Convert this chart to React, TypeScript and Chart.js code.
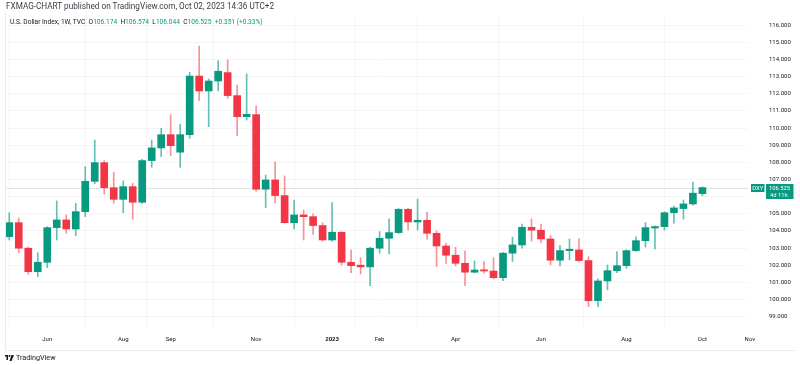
import React, { useEffect, useRef } from "react";
import { Chart, registerables } from "chart.js";

Chart.register(...registerables);

const weeks = [
  "2022-05-09", "2022-05-16", "2022-05-23", "2022-05-30", "2022-06-06", "2022-06-13", "2022-06-20", "2022-06-27",
  "2022-07-04", "2022-07-11", "2022-07-18", "2022-07-25", "2022-08-01", "2022-08-08", "2022-08-15", "2022-08-22",
  "2022-08-29", "2022-09-05", "2022-09-12", "2022-09-19", "2022-09-26", "2022-10-03", "2022-10-10", "2022-10-17",
  "2022-10-24", "2022-10-31", "2022-11-07", "2022-11-14", "2022-11-21", "2022-11-28", "2022-12-05", "2022-12-12",
  "2022-12-19", "2022-12-26", "2023-01-02", "2023-01-09", "2023-01-16", "2023-01-23", "2023-01-30", "2023-02-06",
  "2023-02-13", "2023-02-20", "2023-02-27", "2023-03-06", "2023-03-13", "2023-03-20", "2023-03-27", "2023-04-03",
  "2023-04-10", "2023-04-17", "2023-04-24", "2023-05-01", "2023-05-08", "2023-05-15", "2023-05-22", "2023-05-29",
  "2023-06-05", "2023-06-12", "2023-06-19", "2023-06-26", "2023-07-03", "2023-07-10", "2023-07-17", "2023-07-24",
  "2023-07-31", "2023-08-07", "2023-08-14", "2023-08-21", "2023-08-28", "2023-09-04", "2023-09-11", "2023-09-18",
  "2023-09-25", "2023-10-02",
];

const openValues = [
  103.66, 104.48, 102.99, 101.62, 102.17, 104.19, 104.64, 104.11, 105.12, 106.89, 107.98, 106.52, 105.84, 106.58,
  105.67, 108.1, 108.84, 109.61, 108.59, 109.61, 113.03, 112.16, 112.74, 113.23, 111.89, 110.66, 110.78, 106.43,
  106.97, 106.06, 104.48, 104.93, 104.83, 104.31, 103.47, 103.92, 102.17, 102.0, 101.9, 102.99, 103.57, 103.9,
  105.26, 104.52, 104.62, 103.86, 103.12, 102.58, 102.11, 101.59, 101.72, 101.66, 101.27, 102.7, 103.18, 104.21,
  104.04, 103.53, 102.29, 102.85, 102.89, 102.27, 99.93, 101.08, 101.68, 101.97, 102.85, 103.43, 104.17, 104.25,
  105.06, 105.3, 105.57, 106.174,
];

const highValues = [
  105.06, 104.75, 103.05, 102.73, 104.24, 105.75, 104.93, 105.61, 107.75, 109.3, 108.1, 107.42, 106.91, 106.78,
  108.18, 109.3, 109.99, 110.78, 110.22, 113.25, 114.78, 112.86, 113.93, 113.97, 112.51, 113.15, 111.29, 107.26,
  108.02, 107.2, 105.8, 105.22, 104.99, 104.48, 105.65, 103.95, 102.89, 102.44, 103.05, 103.96, 104.7, 105.3,
  105.32, 105.86, 105.09, 104.0, 103.28, 103.05, 102.83, 102.25, 102.21, 102.44, 102.75, 103.63, 104.4, 104.7,
  104.4, 103.72, 103.16, 103.53, 103.55, 102.5, 101.2, 102.01, 102.79, 102.9, 103.66, 104.48, 104.3, 105.12,
  105.45, 105.8, 106.85, 106.574,
];

const lowValues = [
  103.47, 102.73, 101.47, 101.33, 101.86, 103.47, 103.86, 103.72, 104.83, 106.75, 106.14, 105.61, 105.06, 104.68,
  105.6, 107.71, 108.33, 108.39, 107.71, 109.4, 111.6, 110.08, 112.16, 111.73, 109.55, 110.47, 106.31, 105.36,
  105.61, 104.45, 104.11, 103.47, 103.8, 103.4, 103.4, 102.01, 101.57, 101.49, 100.81, 102.7, 102.66, 103.85,
  104.05, 104.05, 103.51, 101.92, 102.11, 101.96, 100.81, 101.55, 101.53, 101.2, 101.1, 102.21, 102.99, 103.41,
  103.31, 102.01, 101.96, 102.31, 102.2, 99.58, 99.58, 100.56, 101.57, 101.82, 102.8, 103.05, 102.95, 104.05,
  104.45, 104.68, 105.5, 106.044,
];

const closeValues = [
  104.48, 102.99, 101.62, 102.17, 104.19, 104.64, 104.11, 105.12, 106.89, 107.98, 106.52, 105.84, 106.58, 105.67,
  108.1, 108.84, 109.61, 108.97, 109.61, 113.03, 112.16, 112.74, 113.31, 111.89, 110.66, 110.8, 106.43, 106.97,
  106.06, 104.48, 104.93, 104.83, 104.31, 103.47, 103.92, 102.17, 101.97, 101.9, 102.99, 103.57, 103.9, 105.26,
  104.52, 104.62, 103.86, 103.12, 102.58, 102.11, 101.59, 101.72, 101.66, 101.27, 102.7, 103.18, 104.21, 104.04,
  103.53, 102.29, 102.85, 102.93, 102.27, 99.93, 101.08, 101.68, 101.97, 102.85, 103.43, 104.19, 104.25, 105.06,
  105.34, 105.57, 106.2, 106.525,
];

// time-axis ticks: week index -> label
const timeTickIndex = [4, 12, 17, 26, 34, 39, 47, 56, 65, 73, 78];
const timeTickLabels = ["Jun", "Aug", "Sep", "Nov", "2023", "Feb", "Apr", "Jun", "Aug", "Oct", "Nov"];

const priceTicks = [99, 100, 101, 102, 103, 104, 105, 106, 107, 108, 109, 110, 111, 112, 113, 114, 115, 116];

const UP = "#089981";
const DOWN = "#F23645";
const UP_WICK = "rgba(8,153,129,0.62)";
const DOWN_WICK = "rgba(242,54,69,0.55)";
const TEXT = "#131722";
const GRID = "rgba(42,46,57,0.045)";
const FONT = "Roboto, 'Liberation Sans', sans-serif";

export default function App() {
  const canvasRef = useRef<HTMLCanvasElement | null>(null);

  useEffect(() => {
    const canvas = canvasRef.current;
    if (!canvas) return;

    const isUp = (i: number) => closeValues[i] >= openValues[i];
    const bodies = weeks.map((_, i) => ({ x: i, y: [openValues[i], closeValues[i]] }));
    const wicks = weeks.map((_, i) => ({ x: i, y: [lowValues[i], highValues[i]] }));
    const last = closeValues.length - 1;

    const overlay = {
      id: "tvOverlay",
      beforeDatasetsDraw(chart: any) {
        const { ctx, chartArea, scales } = chart;
        const y = Math.round(scales.y.getPixelForValue(closeValues[last])) + 0.5;
        ctx.save();
        ctx.strokeStyle = "#dfe4e3";
        ctx.lineWidth = 1;
        ctx.beginPath();
        ctx.moveTo(chartArea.left, y);
        ctx.lineTo(chartArea.right, y);
        ctx.stroke();
        ctx.restore();
      },
      afterDraw(chart: any) {
        const { ctx, chartArea, scales } = chart;
        const y = scales.y.getPixelForValue(closeValues[last]);
        ctx.save();
        ctx.strokeStyle = "#e9eaec";
        ctx.lineWidth = 1;
        ctx.beginPath();
        ctx.moveTo(chartArea.left + 0.5, 12);
        ctx.lineTo(chartArea.left + 0.5, 350);
        ctx.moveTo(chartArea.left, 350.5);
        ctx.lineTo(795, 350.5);
        ctx.stroke();
        const tagTop = Math.round(y - 3.5);
        ctx.fillStyle = UP;
        ctx.fillRect(chartArea.right + 3, tagTop, 13.5, 8);
        ctx.fillRect(chartArea.right + 18, tagTop, 27.5, 15);
        ctx.fillStyle = "#ffffff";
        ctx.font = `5.8px ${FONT}`;
        ctx.textBaseline = "middle";
        ctx.textAlign = "center";
        ctx.fillText("DXY", chartArea.right + 9.75, tagTop + 4.2);
        ctx.textAlign = "left";
        ctx.fillText(closeValues[last].toFixed(3), chartArea.right + 21, tagTop + 4.2);
        ctx.fillText("4d 11h", chartArea.right + 22, tagTop + 11.2);
        ctx.restore();
      },
    };

    const chart = new Chart(canvas, {
      type: "bar",
      data: {
        datasets: [
          {
            label: "body",
            data: bodies as any,
            backgroundColor: weeks.map((_, i) => (isUp(i) ? UP : DOWN)),
            barThickness: 7,
            minBarLength: 1.2,
            grouped: false,
            order: 0,
          } as any,
          {
            label: "wick",
            data: wicks as any,
            backgroundColor: weeks.map((_, i) => (isUp(i) ? UP_WICK : DOWN_WICK)),
            barThickness: 1,
            grouped: false,
            order: 1,
          } as any,
        ],
      },
      options: {
        animation: false,
        responsive: false,
        maintainAspectRatio: false,
        devicePixelRatio: 1,
        layout: { padding: { left: 5, top: 15, right: 0, bottom: 15 } },
        plugins: { legend: { display: false }, tooltip: { enabled: false } },
        scales: {
          x: {
            type: "linear",
            min: -0.45,
            max: 77.8,
            offset: false,
            afterBuildTicks: (scale: any) => {
              scale.ticks = timeTickIndex.map((v) => ({ value: v }));
            },
            afterFit: (scale: any) => {
              scale.height = 20;
              scale.paddingLeft = 0;
              scale.paddingRight = 0;
            },
            border: { display: false },
            grid: {
              color: (c: any) => (c.tick && c.tick.value > 77.8 ? "rgba(0,0,0,0)" : GRID),
              drawTicks: false,
            },
            ticks: {
              autoSkip: false,
              maxRotation: 0,
              padding: 6,
              color: TEXT,
              font: (c: any) => ({
                family: FONT,
                size: 6,
                weight: c.tick && c.tick.value === 34 ? "bold" : "normal",
              }),
              callback: (v: any) => {
                const k = timeTickIndex.indexOf(Number(v));
                return k >= 0 ? timeTickLabels[k] : "";
              },
            },
          },
          y: {
            type: "linear",
            position: "right",
            min: 98.22,
            max: 116.59,
            afterBuildTicks: (scale: any) => {
              scale.ticks = priceTicks.map((v) => ({ value: v }));
            },
            afterFit: (scale: any) => {
              scale.width = 52;
              scale.paddingTop = 0;
              scale.paddingBottom = 0;
            },
            border: { display: false },
            grid: { color: GRID, drawTicks: false },
            ticks: {
              padding: 21,
              color: TEXT,
              font: { family: FONT, size: 6 },
              callback: (v: any) => Number(v).toFixed(3),
            },
          },
        },
      },
      plugins: [overlay],
    } as any);

    return () => chart.destroy();
  }, []);

  const green = { color: UP };
  return (
    <div
      style={{
        position: "absolute",
        left: 0,
        top: 0,
        width: 800,
        height: 365,
        background: "#ffffff",
        fontFamily: FONT,
        overflow: "hidden",
      }}
    >
      <canvas ref={canvasRef} width={800} height={365} style={{ position: "absolute", left: 0, top: 0 }} />
      <div style={{ position: "absolute", left: 6, top: 1, fontSize: 8.2, color: "#3a3d45", whiteSpace: "nowrap", lineHeight: "11px" }}>
        FXMAG-CHART published on TradingView.com, Oct 02, 2023 14:36 UTC+2
      </div>
      <div style={{ position: "absolute", left: 10, top: 17, fontSize: 6.6, color: TEXT, whiteSpace: "nowrap", lineHeight: "10px" }}>
        U.S. Dollar Index, 1W, TVC&nbsp;&nbsp;O<span style={green}>106.174</span>&nbsp;&nbsp;H<span style={green}>106.574</span>
        &nbsp;&nbsp;L<span style={green}>106.044</span>&nbsp;&nbsp;C<span style={green}>106.525</span>&nbsp;&nbsp;
        <span style={green}>+0.351 (+0.33%)</span>
      </div>
      <div style={{ position: "absolute", left: 5, top: 352, display: "flex", alignItems: "center", gap: 2, height: 11 }}>
        <svg width="9" height="6" viewBox="0 0 36 24">
          <path d="M0 0h12v20H6V6H0z" fill={TEXT} />
          <circle cx="18" cy="4" r="4" fill={TEXT} />
          <path d="M26 0h10L26 24H18z" fill={TEXT} />
        </svg>
        <span style={{ fontSize: 7.2, color: TEXT, lineHeight: "11px" }}>TradingView</span>
      </div>
    </div>
  );
}
